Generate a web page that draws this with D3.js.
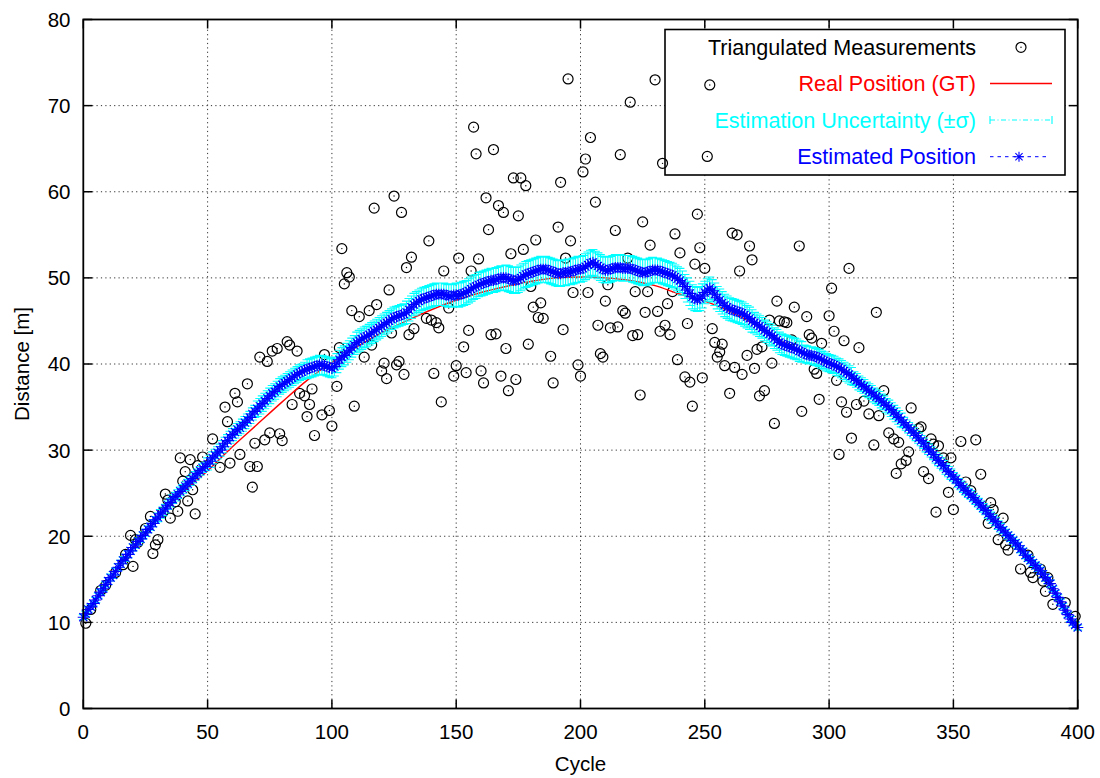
<!DOCTYPE html>
<html>
<head>
<meta charset="utf-8">
<script src="https://cdn.jsdelivr.net/npm/d3@7"></script>
<style>
  body { margin: 0; background: #fff; }
  svg { display: block; }
  text { font-family: "Liberation Sans", Arial, Helvetica, sans-serif; }
</style>
</head>
<body>
<svg id="chart" width="1100" height="778"></svg>
<script>
// ---------- data ----------
const xTicks = [0, 50, 100, 150, 200, 250, 300, 350, 400];
const yTicks = [0, 10, 20, 30, 40, 50, 60, 70, 80];

// triangulated measurements: cycle and distance [m]
const measCycle = [
  1, 3, 7, 9, 13, 16, 17, 19, 20, 21, 22, 25, 27, 28, 29, 30, 32, 33, 34, 35,
  37, 38, 39, 40, 41, 42, 43, 44, 45, 46, 48, 52, 55, 57, 58, 59, 61, 62, 63, 66,
  67, 68, 69, 70, 71, 73, 74, 75, 76, 78, 79, 80, 82, 83, 84, 86, 87, 89, 90, 91,
  92, 93, 96, 97, 99, 100, 102, 103, 104, 105, 106, 107, 108, 109, 111, 113, 115, 116, 117, 118,
  120, 121, 122, 123, 124, 125, 126, 127, 128, 129, 130, 131, 132, 133, 138, 139, 140, 141, 142, 143,
  144, 145, 147, 149, 150, 151, 153, 154, 155, 156, 157, 158, 159, 160, 161, 162, 163, 164, 165, 166,
  167, 168, 169, 170, 171, 172, 173, 174, 175, 176, 177, 178, 179, 180, 181, 182, 183, 184, 185, 188,
  189, 191, 192, 193, 194, 195, 196, 197, 199, 200, 201, 202, 203, 204, 206, 207, 208, 209, 210, 211,
  212, 214, 215, 216, 217, 218, 219, 220, 221, 222, 223, 224, 225, 226, 227, 228, 230, 231, 232, 233,
  234, 235, 236, 237, 238, 239, 240, 242, 243, 244, 245, 246, 247, 248, 249, 250, 251, 252, 253, 254,
  255, 256, 257, 258, 260, 261, 262, 263, 264, 265, 267, 268, 269, 270, 271, 272, 273, 274, 276, 277,
  278, 279, 280, 282, 283, 285, 286, 288, 289, 291, 292, 293, 294, 295, 296, 297, 300, 301, 302, 303,
  304, 305, 306, 307, 308, 309, 311, 312, 314, 316, 318, 319, 320, 322, 324, 326, 327, 328, 329, 331,
  332, 333, 336, 337, 338, 340, 341, 342, 343, 344, 346, 348, 349, 350, 353, 355, 357, 359, 361, 364,
  365, 366, 368, 370, 371, 372, 377, 380, 381, 382, 385, 386, 387, 388, 390, 395, 399
];
const measDist = [
  9.9, 11.5, 13.7, 14.3, 15.8, 16.7, 17.9, 20.1, 16.5, 19.6, 19.3, 20.9, 22.3, 18.0, 19.0, 19.6, 22.8, 24.9, 24.2, 22.1,
  24.0, 22.9, 29.1, 26.4, 27.5, 24.1, 28.9, 25.4, 22.6, 28.2, 29.2, 31.3, 28.0, 35.0, 33.3, 28.5, 36.6, 35.6, 29.5, 37.7,
  28.1, 25.7, 30.8, 28.1, 40.8, 31.2, 40.3, 32.0, 41.5, 41.8, 31.9, 31.1, 42.6, 42.2, 35.3, 41.5, 36.6, 36.3, 33.9, 35.3,
  37.1, 31.7, 34.1, 41.1, 34.6, 32.8, 37.4, 41.9, 53.4, 49.3, 50.6, 50.1, 46.2, 35.1, 45.5, 40.8, 46.2, 42.2, 58.1, 46.9,
  39.2, 40.1, 38.3, 48.6, 43.6, 59.5, 39.9, 40.3, 57.6, 38.8, 51.2, 43.4, 52.4, 44.1, 45.3, 54.3, 45.1, 38.9, 44.8, 44.2,
  35.6, 50.8, 46.5, 38.6, 39.8, 52.3, 42.0, 39.0, 43.9, 50.8, 67.5, 64.4, 52.2, 39.2, 37.8, 59.3, 55.6, 43.4, 64.9, 43.5,
  58.4, 38.6, 57.6, 41.8, 36.9, 52.8, 61.6, 38.2, 57.2, 61.6, 53.3, 60.7, 42.3, 49.0, 46.6, 54.4, 45.4, 47.1, 45.3, 40.9,
  37.8, 55.9, 61.1, 44.0, 52.3, 73.1, 54.3, 48.3, 39.9, 38.6, 62.3, 63.8, 48.3, 66.3, 58.8, 44.5, 41.2, 40.8, 47.3, 49.2,
  44.2, 55.5, 44.3, 64.3, 46.2, 45.9, 52.3, 70.4, 43.3, 48.4, 43.4, 36.4, 56.5, 46.0, 48.4, 53.8, 73.0, 46.1, 43.8, 63.3,
  44.5, 47.0, 43.4, 48.4, 55.1, 40.5, 52.9, 38.5, 44.7, 37.9, 35.1, 51.6, 57.4, 53.5, 38.4, 51.1, 64.1, 72.4, 44.1, 42.5,
  40.8, 41.4, 42.3, 39.8, 36.6, 55.2, 39.6, 55.0, 50.8, 38.8, 41.0, 53.7, 52.1, 39.5, 41.7, 36.3, 42.0, 36.9, 45.1, 40.1,
  33.1, 47.3, 45.0, 44.9, 44.8, 42.8, 46.6, 53.7, 34.5, 45.5, 43.4, 43.0, 39.4, 38.9, 35.9, 42.4, 45.6, 48.8, 43.8, 38.1,
  29.5, 35.6, 42.7, 34.4, 51.1, 31.4, 35.3, 41.9, 35.7, 34.2, 30.6, 46.0, 34.0, 36.9, 32.0, 31.3, 27.3, 30.9, 28.4, 28.8,
  29.8, 34.9, 32.5, 32.7, 27.5, 26.7, 31.3, 30.7, 22.8, 30.5, 29.1, 25.1, 29.1, 23.1, 31.0, 26.3, 25.3, 31.2, 27.2, 21.5,
  23.9, 23.1, 19.6, 22.1, 19.0, 18.4, 16.2, 17.8, 15.8, 15.2, 16.2, 14.8, 13.6, 15.2, 12.1, 12.3, 10.7
];

// ground truth position, sampled every 10 cycles
const gtCycle = [0, 10, 20, 30, 40, 50, 60, 70, 80, 90, 100, 110, 120, 130, 140, 150, 160, 170, 180, 190, 200,
                 210, 220, 230, 240, 250, 260, 270, 280, 290, 300, 310, 320, 330, 340, 350, 360, 370, 380, 390, 400];
const gtDist = [10.6, 14.8, 18.7, 22.1, 25.1, 27.6, 30.4, 33.0, 35.6, 38.1, 40.2, 42.0, 43.6, 45.0, 46.3, 47.4, 48.3, 49.0, 49.6, 50.0, 50.1,
                50.0, 49.7, 49.1, 48.1, 47.3, 46.1, 44.6, 42.8, 41.3, 40.0, 38.3, 36.0, 33.2, 30.1, 26.9, 23.9, 20.7, 17.5, 14.0, 9.4];

// estimated position, one value per cycle 0..400
const estDist = [
  10.6, 11.0, 11.5, 11.8, 12.2, 12.6, 13.1, 13.5, 13.9, 14.4,
  14.8, 15.2, 15.5, 15.9, 16.4, 16.8, 17.2, 17.5, 17.9, 18.3,
  18.7, 19.0, 19.4, 19.7, 20.1, 20.4, 20.8, 21.1, 21.5, 21.9,
  22.2, 22.6, 22.9, 23.2, 23.6, 23.9, 24.3, 24.6, 24.9, 25.2,
  25.5, 25.8, 26.1, 26.4, 26.7, 27.0, 27.3, 27.6, 27.9, 28.1,
  28.4, 28.7, 29.1, 29.4, 29.7, 30.0, 30.4, 30.8, 31.1, 31.5,
  31.8, 32.1, 32.4, 32.6, 32.9, 33.2, 33.5, 33.8, 34.2, 34.5,
  34.8, 35.1, 35.4, 35.7, 36.0, 36.3, 36.6, 36.8, 37.1, 37.4,
  37.6, 37.8, 38.0, 38.2, 38.4, 38.6, 38.8, 39.0, 39.1, 39.3,
  39.4, 39.5, 39.6, 39.7, 39.8, 39.9, 39.9, 39.8, 39.7, 39.6,
  39.5, 39.7, 40.1, 40.5, 40.8, 41.0, 41.3, 41.6, 41.9, 42.2,
  42.5, 42.7, 42.9, 43.1, 43.2, 43.4, 43.6, 43.8, 44.0, 44.2,
  44.4, 44.6, 44.8, 45.0, 45.2, 45.4, 45.5, 45.6, 45.7, 45.8,
  46.0, 46.3, 46.6, 46.9, 47.1, 47.3, 47.5, 47.6, 47.7, 47.8,
  47.9, 48.0, 48.1, 48.1, 48.1, 48.1, 48.0, 47.9, 47.9, 48.0,
  48.0, 48.0, 48.1, 48.2, 48.3, 48.5, 48.7, 48.9, 49.0, 49.2,
  49.3, 49.4, 49.5, 49.6, 49.7, 49.7, 49.8, 49.9, 50.0, 50.0,
  50.0, 49.9, 49.8, 49.7, 49.7, 49.8, 50.0, 50.2, 50.4, 50.5,
  50.6, 50.7, 50.8, 50.9, 51.0, 51.0, 51.0, 50.9, 50.8, 50.7,
  50.6, 50.5, 50.5, 50.6, 50.6, 50.7, 50.7, 50.8, 50.9, 51.0,
  51.0, 51.1, 51.3, 51.5, 51.7, 51.8, 51.6, 51.4, 51.2, 51.0,
  50.9, 50.9, 51.0, 51.1, 51.2, 51.2, 51.2, 51.1, 51.1, 51.1,
  51.1, 51.0, 50.9, 50.8, 50.7, 50.6, 50.6, 50.7, 50.8, 50.9,
  50.9, 50.9, 50.8, 50.7, 50.6, 50.5, 50.4, 50.3, 50.1, 49.9,
  49.7, 49.4, 49.0, 48.6, 48.2, 47.8, 47.6, 47.5, 47.6, 47.9,
  48.3, 48.6, 48.8, 48.5, 48.1, 47.7, 47.4, 47.1, 46.8, 46.6,
  46.4, 46.3, 46.2, 46.1, 46.0, 45.9, 45.7, 45.5, 45.3, 45.0,
  44.8, 44.6, 44.4, 44.2, 43.9, 43.7, 43.5, 43.3, 43.0, 42.8,
  42.5, 42.3, 42.2, 42.1, 42.0, 41.9, 41.8, 41.7, 41.5, 41.4,
  41.2, 41.1, 41.0, 41.0, 40.9, 40.8, 40.7, 40.5, 40.4, 40.2,
  40.1, 40.0, 39.9, 39.7, 39.6, 39.4, 39.2, 39.0, 38.8, 38.6,
  38.3, 38.1, 37.8, 37.6, 37.4, 37.1, 36.9, 36.7, 36.4, 36.2,
  36.0, 35.7, 35.5, 35.2, 35.0, 34.7, 34.4, 34.1, 33.8, 33.5,
  33.2, 32.9, 32.6, 32.3, 32.0, 31.7, 31.4, 31.1, 30.8, 30.4,
  30.1, 29.8, 29.5, 29.1, 28.8, 28.5, 28.2, 27.8, 27.5, 27.2,
  26.9, 26.6, 26.2, 25.9, 25.6, 25.3, 25.0, 24.8, 24.5, 24.2,
  23.9, 23.6, 23.3, 23.0, 22.6, 22.3, 22.0, 21.7, 21.3, 21.0,
  20.7, 20.4, 20.1, 19.8, 19.5, 19.2, 18.9, 18.5, 18.2, 17.8,
  17.5, 17.2, 16.9, 16.6, 16.3, 16.0, 15.6, 15.2, 14.9, 14.5,
  13.9, 13.4, 12.9, 12.4, 11.9, 11.4, 10.9, 10.4, 10.0, 9.7,
  9.4
];

// estimation uncertainty (sigma, m) for blocks of 20 cycles centred on 0, 20, ..., 400
const sigmaBlock = [0.3, 0.4, 0.5, 0.7, 0.9, 1.1, 1.2, 1.3, 1.4, 1.5, 1.5, 1.5, 1.4, 1.3, 1.2, 1.0, 0.8, 0.6, 0.5, 0.4, 0.3];

const legendLabels = ["Triangulated Measurements", "Real Position (GT)", "Estimation Uncertainty (\u00b1\u03c3)", "Estimated Position"];

// ---------- layout ----------
const svg = d3.select("#chart");
const x = d3.scaleLinear().domain([0, 400]).range([83.3, 1077.7]);
const y = d3.scaleLinear().domain([0, 80]).range([708.5, 19.5]);
const [L, R] = x.range();
const [B, T] = y.range();

svg.append("rect").attr("width", 1100).attr("height", 778).attr("fill", "#fff");

// dotted grid
const grid = svg.append("g").attr("stroke", "#333").attr("stroke-width", 1).attr("stroke-dasharray", "1.2,3.2");
grid.selectAll(".gx").data(xTicks.slice(1, -1)).join("line")
  .attr("x1", d => x(d)).attr("x2", d => x(d)).attr("y1", B).attr("y2", T);
grid.selectAll(".gy").data(yTicks.slice(1, -1)).join("line")
  .attr("x1", L).attr("x2", R).attr("y1", d => y(d)).attr("y2", d => y(d));

// ticks on all four sides, pointing inward
const tickLen = 9;
const ticks = svg.append("g").attr("stroke", "#000").attr("stroke-width", 1.5);
xTicks.forEach(v => {
  ticks.append("line").attr("x1", x(v)).attr("x2", x(v)).attr("y1", B).attr("y2", B - tickLen);
  ticks.append("line").attr("x1", x(v)).attr("x2", x(v)).attr("y1", T).attr("y2", T + tickLen);
});
yTicks.forEach(v => {
  ticks.append("line").attr("x1", L).attr("x2", L + tickLen).attr("y1", y(v)).attr("y2", y(v));
  ticks.append("line").attr("x1", R).attr("x2", R - tickLen).attr("y1", y(v)).attr("y2", y(v));
});

// key box (opaque, drawn under the data)
const key = { x0: 665, y0: 29.5, x1: 1065, y1: 175, textX: 976, rows: [47.3, 83.5, 120, 156.7], s0: 990, s1: 1052 };
svg.append("rect").attr("x", key.x0).attr("y", key.y0)
  .attr("width", key.x1 - key.x0).attr("height", key.y1 - key.y0)
  .attr("fill", "#fff").attr("stroke", "#000").attr("stroke-width", 1.6);

// measurements: open circles with a centre dot
const circR = 5;
const meas = measCycle.map((c, i) => ({ c, d: measDist[i] }));
const gMeas = svg.append("g");
gMeas.selectAll("circle.m").data(meas).join("circle")
  .attr("cx", d => x(d.c)).attr("cy", d => y(d.d)).attr("r", circR)
  .attr("fill", "none").attr("stroke", "#000").attr("stroke-width", 1.2);
gMeas.selectAll("circle.dot").data(meas).join("circle")
  .attr("cx", d => x(d.c)).attr("cy", d => y(d.d)).attr("r", 0.7).attr("fill", "#000");

// ground truth
const gt = gtCycle.map((c, i) => ({ c, d: gtDist[i] }));
svg.append("path").datum(gt)
  .attr("d", d3.line().x(d => x(d.c)).y(d => y(d.d)).curve(d3.curveMonotoneX))
  .attr("fill", "none").attr("stroke", "#ff0000").attr("stroke-width", 1.4);

// estimate with uncertainty
const est = estDist.map((d, c) => ({ c, d, s: sigmaBlock[Math.round(c / 20)] }));
const cap = 4.5;
svg.append("path")
  .attr("d", est.map(p => {
    const xp = x(p.c), ya = y(p.d + p.s), yb = y(p.d - p.s);
    return `M${xp},${ya}V${yb}M${xp - cap},${ya}H${xp + cap}M${xp - cap},${yb}H${xp + cap}`;
  }).join(""))
  .attr("fill", "none").attr("stroke", "#00ffff").attr("stroke-width", 1.1);

svg.append("path").datum(est)
  .attr("d", d3.line().x(d => x(d.c)).y(d => y(d.d)))
  .attr("fill", "none").attr("stroke", "#0000ff").attr("stroke-width", 1).attr("stroke-dasharray", "3.5,4");

function star(cx, cy, r) {
  const q = r * 0.72;
  return `M${cx - r},${cy}H${cx + r}M${cx},${cy - r}V${cy + r}` +
         `M${cx - q},${cy - q}L${cx + q},${cy + q}M${cx - q},${cy + q}L${cx + q},${cy - q}`;
}
const starR = 5.6;
svg.append("path")
  .attr("d", est.map(p => star(x(p.c), y(p.d), starR)).join(""))
  .attr("fill", "none").attr("stroke", "#0000ff").attr("stroke-width", 1.1);

// frame
svg.append("rect").attr("x", L).attr("y", T).attr("width", R - L).attr("height", B - T)
  .attr("fill", "none").attr("stroke", "#000").attr("stroke-width", 1.8);

// tick labels
const fontTick = "20.5px";
svg.append("g").selectAll("text").data(xTicks).join("text")
  .attr("x", d => x(d)).attr("y", 738.5).attr("text-anchor", "middle")
  .attr("font-size", fontTick).attr("fill", "#000").text(d => d);
svg.append("g").selectAll("text").data(yTicks).join("text")
  .attr("x", 70.5).attr("y", d => y(d)).attr("dy", "0.36em").attr("text-anchor", "end")
  .attr("font-size", fontTick).attr("fill", "#000").text(d => d);

// axis titles
svg.append("text").attr("x", (L + R) / 2).attr("y", 771).attr("text-anchor", "middle")
  .attr("font-size", fontTick).attr("fill", "#000").text("Cycle");
svg.append("text").attr("transform", `translate(29,${(B + T) / 2}) rotate(-90)`)
  .attr("text-anchor", "middle").attr("font-size", fontTick).attr("fill", "#000").text("Distance [m]");

// key entries
const keyColors = ["#000", "#ff0000", "#00ffff", "#0000ff"];
const gKey = svg.append("g");
gKey.selectAll("text").data(legendLabels).join("text")
  .attr("x", key.textX).attr("y", (d, i) => key.rows[i]).attr("dy", "0.36em")
  .attr("text-anchor", "end").attr("font-size", "21.6px").attr("fill", (d, i) => keyColors[i]).text(d => d);

const mid = (key.s0 + key.s1) / 2;
gKey.append("circle").attr("cx", mid).attr("cy", key.rows[0]).attr("r", circR)
  .attr("fill", "none").attr("stroke", "#000").attr("stroke-width", 1.2);
gKey.append("circle").attr("cx", mid).attr("cy", key.rows[0]).attr("r", 0.7).attr("fill", "#000");

gKey.append("line").attr("x1", key.s0).attr("x2", key.s1).attr("y1", key.rows[1]).attr("y2", key.rows[1])
  .attr("stroke", "#ff0000").attr("stroke-width", 1.4);

gKey.append("line").attr("x1", key.s0).attr("x2", key.s1).attr("y1", key.rows[2]).attr("y2", key.rows[2])
  .attr("stroke", "#00ffff").attr("stroke-width", 1.1).attr("stroke-dasharray", "5,2.5,1,2.5");
gKey.append("path")
  .attr("d", `M${key.s0},${key.rows[2] - 4}V${key.rows[2] + 4}M${key.s1},${key.rows[2] - 4}V${key.rows[2] + 4}`)
  .attr("stroke", "#00ffff").attr("stroke-width", 1.1);

gKey.append("line").attr("x1", key.s0).attr("x2", key.s1 - 2).attr("y1", key.rows[3]).attr("y2", key.rows[3])
  .attr("stroke", "#0000ff").attr("stroke-width", 1).attr("stroke-dasharray", "3.5,4");
gKey.append("path").attr("d", star(mid - 2, key.rows[3], 5))
  .attr("fill", "none").attr("stroke", "#0000ff").attr("stroke-width", 1.1);
</script>
</body>
</html>
